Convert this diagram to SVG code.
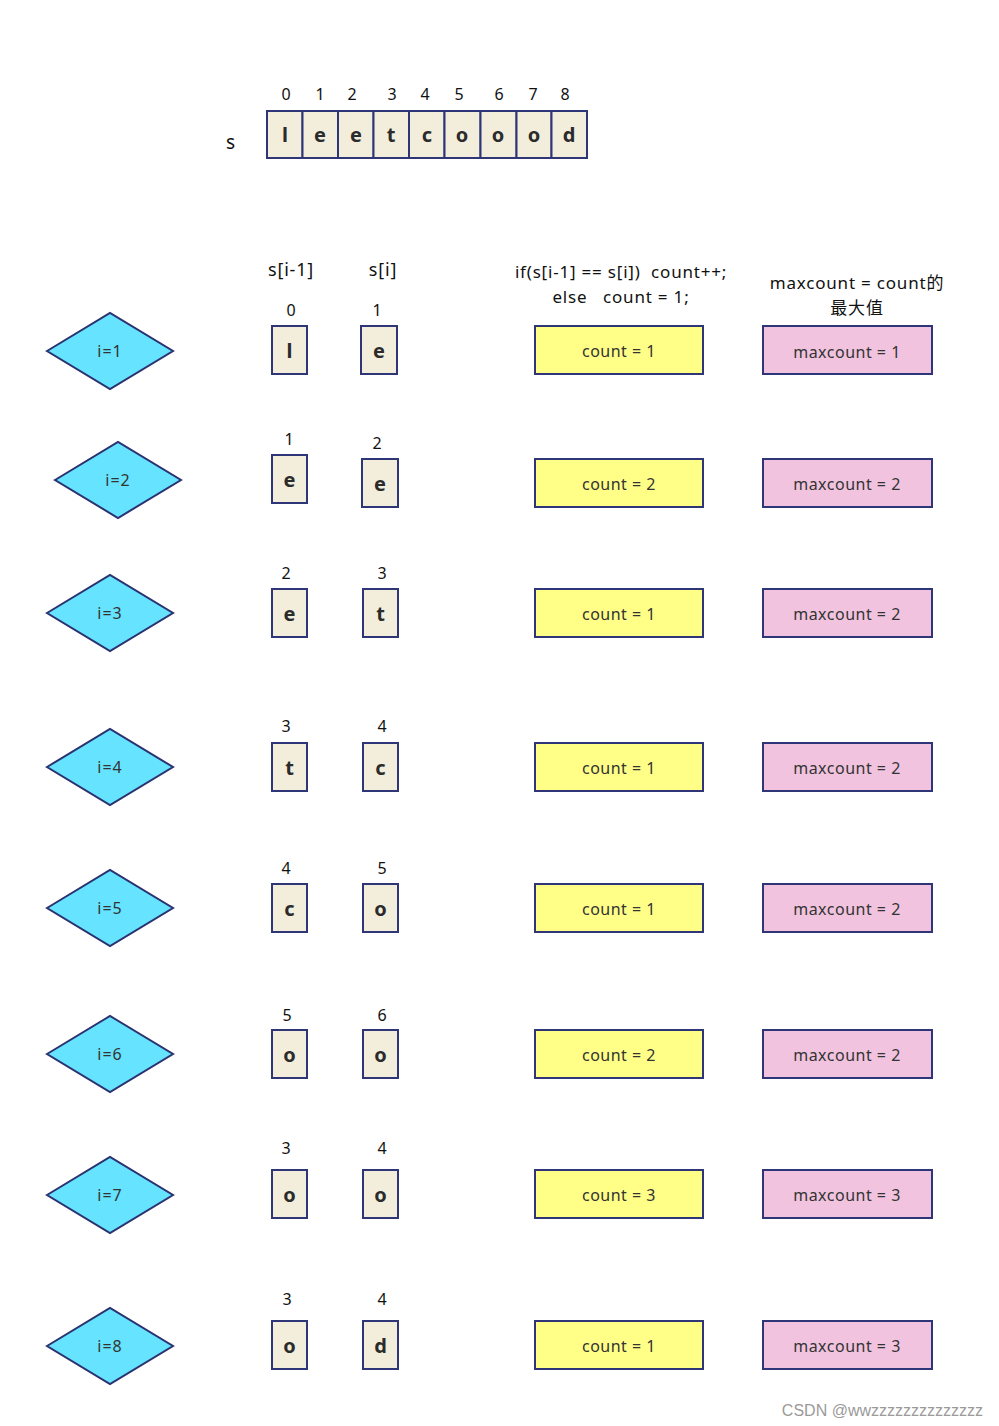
<svg xmlns="http://www.w3.org/2000/svg" width="999" height="1426" viewBox="0 0 999 1426" xml:space="preserve">
<style>
text{font-family:"Noto Sans","Noto Sans CJK SC",sans-serif;white-space:pre;}
.cell{fill:#F3EEDC;stroke:#2E3677;stroke-width:2;}
.ch{font-size:20px;font-weight:bold;fill:#2b2b2b;text-anchor:middle;}
.idx{font-size:16px;fill:#111;text-anchor:middle;}
.dia{fill:#66E3FF;stroke:#2A3270;stroke-width:2;}
.dl{font-size:16px;fill:#333;text-anchor:middle;letter-spacing:1px;}
.yel{fill:#FFFF88;stroke:#2E3677;stroke-width:2;}
.pink{fill:#F1C3DF;stroke:#2E3677;stroke-width:2;}
.bl{font-size:16px;fill:#333;text-anchor:middle;letter-spacing:0.5px;}
.hd{font-size:17px;fill:#111;text-anchor:middle;letter-spacing:0.8px;}
</style>
<rect width="999" height="1426" fill="#ffffff"/>
<g id="array">
<text x="231" y="149" class="hd" style="font-size:19px">s</text>
<rect class="cell" x="267" y="111" width="35.5" height="47"/>
<rect class="cell" x="302.5" y="111" width="35.5" height="47"/>
<rect class="cell" x="338" y="111" width="35.5" height="47"/>
<rect class="cell" x="373.5" y="111" width="35.5" height="47"/>
<rect class="cell" x="409" y="111" width="35.5" height="47"/>
<rect class="cell" x="444.5" y="111" width="36" height="47"/>
<rect class="cell" x="480.5" y="111" width="36" height="47"/>
<rect class="cell" x="516.5" y="111" width="35" height="47"/>
<rect class="cell" x="551.5" y="111" width="35.5" height="47"/>
<text class="ch" x="285" y="142">l</text>
<text class="ch" x="320" y="142">e</text>
<text class="ch" x="356" y="142">e</text>
<text class="ch" x="391" y="142">t</text>
<text class="ch" x="427" y="142">c</text>
<text class="ch" x="462" y="142">o</text>
<text class="ch" x="498" y="142">o</text>
<text class="ch" x="534" y="142">o</text>
<text class="ch" x="569" y="142">d</text>
<text class="idx" x="286" y="100">0</text>
<text class="idx" x="320" y="100">1</text>
<text class="idx" x="352" y="100">2</text>
<text class="idx" x="392" y="100">3</text>
<text class="idx" x="425" y="100">4</text>
<text class="idx" x="459" y="100">5</text>
<text class="idx" x="499" y="100">6</text>
<text class="idx" x="533" y="100">7</text>
<text class="idx" x="565" y="100">8</text>
</g>
<g id="headers">
<text class="hd" x="291" y="276" style="font-size:18px">s[i-1]</text>
<text class="hd" x="383" y="276" style="font-size:18px">s[i]</text>
<text class="hd" x="621" y="278">if(s[i-1] == s[i])  count++;</text>
<text class="hd" x="621" y="303">else   count = 1;</text>
<text class="hd" x="857" y="289">maxcount = count的</text>
<text class="hd" x="857" y="314">最大值</text>
</g>
<g id="row1">
<polygon class="dia" points="47,351 110,313 173,351 110,389"/>
<text class="dl" x="110" y="357">i=1</text>
<text class="idx" x="291" y="316">0</text>
<text class="idx" x="377" y="316">1</text>
<rect class="cell" x="272" y="326" width="35" height="48"/>
<text class="ch" x="289.5" y="358">l</text>
<rect class="cell" x="361" y="326" width="36" height="48"/>
<text class="ch" x="379" y="358">e</text>
<rect class="yel" x="535" y="326" width="168" height="48"/>
<text class="bl" x="619" y="357">count = 1</text>
<rect class="pink" x="763" y="326" width="169" height="48"/>
<text class="bl" x="847" y="358">maxcount = 1</text>
</g>
<g id="row2">
<polygon class="dia" points="55,480 118,442 181,480 118,518"/>
<text class="dl" x="118" y="486">i=2</text>
<text class="idx" x="289" y="445">1</text>
<text class="idx" x="377" y="449">2</text>
<rect class="cell" x="272" y="455" width="35" height="48"/>
<text class="ch" x="289.5" y="487">e</text>
<rect class="cell" x="362" y="459" width="36" height="48"/>
<text class="ch" x="380" y="491">e</text>
<rect class="yel" x="535" y="459" width="168" height="48"/>
<text class="bl" x="619" y="490">count = 2</text>
<rect class="pink" x="763" y="459" width="169" height="48"/>
<text class="bl" x="847" y="490">maxcount = 2</text>
</g>
<g id="row3">
<polygon class="dia" points="47,613 110,575 173,613 110,651"/>
<text class="dl" x="110" y="619">i=3</text>
<text class="idx" x="286" y="579">2</text>
<text class="idx" x="382" y="579">3</text>
<rect class="cell" x="272" y="589" width="35" height="48"/>
<text class="ch" x="289.5" y="621">e</text>
<rect class="cell" x="363" y="589" width="35" height="48"/>
<text class="ch" x="380.5" y="621">t</text>
<rect class="yel" x="535" y="589" width="168" height="48"/>
<text class="bl" x="619" y="620">count = 1</text>
<rect class="pink" x="763" y="589" width="169" height="48"/>
<text class="bl" x="847" y="620">maxcount = 2</text>
</g>
<g id="row4">
<polygon class="dia" points="47,767 110,729 173,767 110,805"/>
<text class="dl" x="110" y="773">i=4</text>
<text class="idx" x="286" y="732">3</text>
<text class="idx" x="382" y="732">4</text>
<rect class="cell" x="272" y="743" width="35" height="48"/>
<text class="ch" x="289.5" y="775">t</text>
<rect class="cell" x="363" y="743" width="35" height="48"/>
<text class="ch" x="380.5" y="775">c</text>
<rect class="yel" x="535" y="743" width="168" height="48"/>
<text class="bl" x="619" y="774">count = 1</text>
<rect class="pink" x="763" y="743" width="169" height="48"/>
<text class="bl" x="847" y="774">maxcount = 2</text>
</g>
<g id="row5">
<polygon class="dia" points="47,908 110,870 173,908 110,946"/>
<text class="dl" x="110" y="914">i=5</text>
<text class="idx" x="286" y="874">4</text>
<text class="idx" x="382" y="874">5</text>
<rect class="cell" x="272" y="884" width="35" height="48"/>
<text class="ch" x="289.5" y="916">c</text>
<rect class="cell" x="363" y="884" width="35" height="48"/>
<text class="ch" x="380.5" y="916">o</text>
<rect class="yel" x="535" y="884" width="168" height="48"/>
<text class="bl" x="619" y="915">count = 1</text>
<rect class="pink" x="763" y="884" width="169" height="48"/>
<text class="bl" x="847" y="915">maxcount = 2</text>
</g>
<g id="row6">
<polygon class="dia" points="47,1054 110,1016 173,1054 110,1092"/>
<text class="dl" x="110" y="1060">i=6</text>
<text class="idx" x="287" y="1021">5</text>
<text class="idx" x="382" y="1021">6</text>
<rect class="cell" x="272" y="1030" width="35" height="48"/>
<text class="ch" x="289.5" y="1062">o</text>
<rect class="cell" x="363" y="1030" width="35" height="48"/>
<text class="ch" x="380.5" y="1062">o</text>
<rect class="yel" x="535" y="1030" width="168" height="48"/>
<text class="bl" x="619" y="1061">count = 2</text>
<rect class="pink" x="763" y="1030" width="169" height="48"/>
<text class="bl" x="847" y="1061">maxcount = 2</text>
</g>
<g id="row7">
<polygon class="dia" points="47,1195 110,1157 173,1195 110,1233"/>
<text class="dl" x="110" y="1201">i=7</text>
<text class="idx" x="286" y="1154">3</text>
<text class="idx" x="382" y="1154">4</text>
<rect class="cell" x="272" y="1170" width="35" height="48"/>
<text class="ch" x="289.5" y="1202">o</text>
<rect class="cell" x="363" y="1170" width="35" height="48"/>
<text class="ch" x="380.5" y="1202">o</text>
<rect class="yel" x="535" y="1170" width="168" height="48"/>
<text class="bl" x="619" y="1201">count = 3</text>
<rect class="pink" x="763" y="1170" width="169" height="48"/>
<text class="bl" x="847" y="1201">maxcount = 3</text>
</g>
<g id="row8">
<polygon class="dia" points="47,1346 110,1308 173,1346 110,1384"/>
<text class="dl" x="110" y="1352">i=8</text>
<text class="idx" x="287" y="1305">3</text>
<text class="idx" x="382" y="1305">4</text>
<rect class="cell" x="272" y="1321" width="35" height="48"/>
<text class="ch" x="289.5" y="1353">o</text>
<rect class="cell" x="363" y="1321" width="35" height="48"/>
<text class="ch" x="380.5" y="1353">d</text>
<rect class="yel" x="535" y="1321" width="168" height="48"/>
<text class="bl" x="619" y="1352">count = 1</text>
<rect class="pink" x="763" y="1321" width="169" height="48"/>
<text class="bl" x="847" y="1352">maxcount = 3</text>
</g>
<g id="connectors"></g>
<text x="983" y="1416" style="font-family:'Liberation Sans',sans-serif;font-size:16px;fill:#9a9a9a;text-anchor:end">CSDN @wwzzzzzzzzzzzzzz</text>
</svg>
